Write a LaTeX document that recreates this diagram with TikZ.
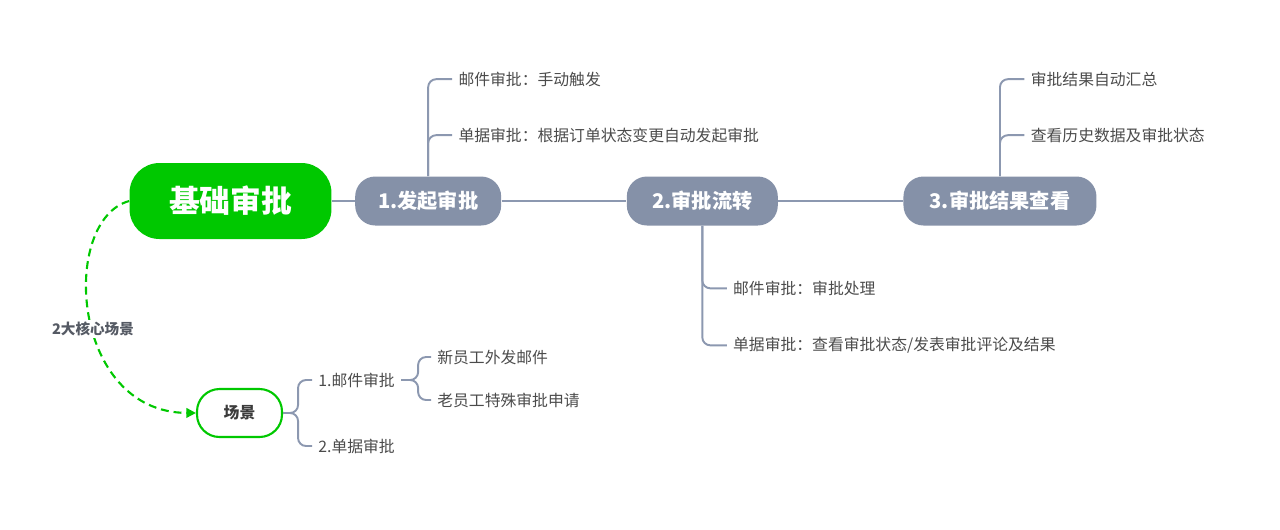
\documentclass[tikz,border=0pt]{standalone}
\usepackage{fontspec}
\newfontfamily\cjk{Noto Sans CJK SC}
\usetikzlibrary{arrows.meta, positioning}
\definecolor{mmgreen}{RGB}{0,200,0}
\definecolor{mmgray}{RGB}{133,145,168}
\definecolor{mmline}{RGB}{140,152,176}
\definecolor{mmtext}{RGB}{75,75,75}
\definecolor{mmdark}{RGB}{60,60,60}
\definecolor{mmlabel}{RGB}{85,90,100}
\begin{document}
\begin{tikzpicture}[
  x=0.02cm, y=-0.02cm,
  root/.style={rectangle, rounded corners=0.6cm, fill=mmgreen, text=white, minimum width=4.04cm, minimum height=1.52cm, inner xsep=0.6cm, font=\cjk\bfseries\fontsize{17.5}{20}\selectfont},
  topic/.style={rectangle, rounded corners=0.4cm, fill=mmgray, text=white, minimum height=0.98cm, inner xsep=0.4cm, font=\cjk\bfseries\fontsize{11.5}{14}\selectfont},
  leaf/.style={anchor=west, inner xsep=0.12cm, text=mmtext, font=\cjk\fontsize{9}{11}\selectfont},
  scene/.style={rectangle, rounded corners=0.45cm, draw=mmgreen, line width=1.2pt, fill=white, minimum width=1.7cm, minimum height=0.96cm, text=mmdark, font=\cjk\bfseries\fontsize{9}{11}\selectfont},
  tag/.style={fill=white, inner sep=1pt, text=mmlabel, font=\cjk\bfseries\fontsize{8.3}{10}\selectfont},
  branch/.style={draw=mmline, line width=1.1pt, rounded corners=0.16cm},
  link/.style={draw=mmline, line width=1.1pt},
  >=Latex
]
\useasboundingbox (0,0) rectangle (1280,529);

\node[root] (base) at (230.5,201) {基础审批};
\node[topic, minimum width=2.92cm, right=0.46cm of base] (start) {1.发起审批};
\node[topic, minimum width=3.02cm, right=2.5cm of start] (flow) {2.审批流转};
\node[topic, minimum width=3.86cm, right=2.5cm of flow] (result) {3.审批结果查看};

\draw[link] (base) -- (start);
\draw[link] (start) -- (flow);
\draw[link] (flow) -- (result);

\node[leaf] (startmail) at ([xshift=0.48cm, yshift=1.94cm]start.north) {邮件审批：手动触发};
\node[leaf] (startbill) at ([xshift=0.48cm, yshift=0.82cm]start.north) {单据审批：根据订单状态变更自动发起审批};
\draw[branch] (start.north) |- (startmail.west);
\draw[branch] (start.north) |- (startbill.west);

\node[leaf] (flowmail) at ([xshift=0.49cm, yshift=-1.25cm]flow.south) {邮件审批：审批处理};
\node[leaf] (flowbill) at ([xshift=0.49cm, yshift=-2.39cm]flow.south) {单据审批：查看审批状态/发表审批评论及结果};
\draw[branch] (flow.south) |- (flowmail.west);
\draw[branch] (flow.south) |- (flowbill.west);

\node[leaf] (resultsum) at ([xshift=0.49cm, yshift=1.94cm]result.north) {审批结果自动汇总};
\node[leaf] (resulthist) at ([xshift=0.49cm, yshift=0.82cm]result.north) {查看历史数据及审批状态};
\draw[branch] (result.north) |- (resultsum.west);
\draw[branch] (result.north) |- (resulthist.west);

\node[scene] (scene) at (239.5,413) {场景};
\draw[mmgreen, line width=1.2pt, dash pattern=on 4.5pt off 2.8pt, -{Triangle[length=5.5pt, width=5.5pt]}] (base.west) .. controls (60,220) and (70,412) .. node[tag, pos=0.55] (count) {2大核心场景} (scene.west);

\node[leaf] (mail) at (312,380) {1.邮件审批};
\node[leaf] (bill) at (312,446) {2.单据审批};
\draw[branch] (scene.east) -- ++(15,0) |- (mail.west);
\draw[branch] (scene.east) -- ++(15,0) |- (bill.west);

\node[leaf] (newstaff) at (431,357) {新员工外发邮件};
\node[leaf] (oldstaff) at (431,400) {老员工特殊审批申请};
\draw[branch] (mail.east) -- ++(17,0) |- (newstaff.west);
\draw[branch] (mail.east) -- ++(17,0) |- (oldstaff.west);

\end{tikzpicture}
\end{document}
